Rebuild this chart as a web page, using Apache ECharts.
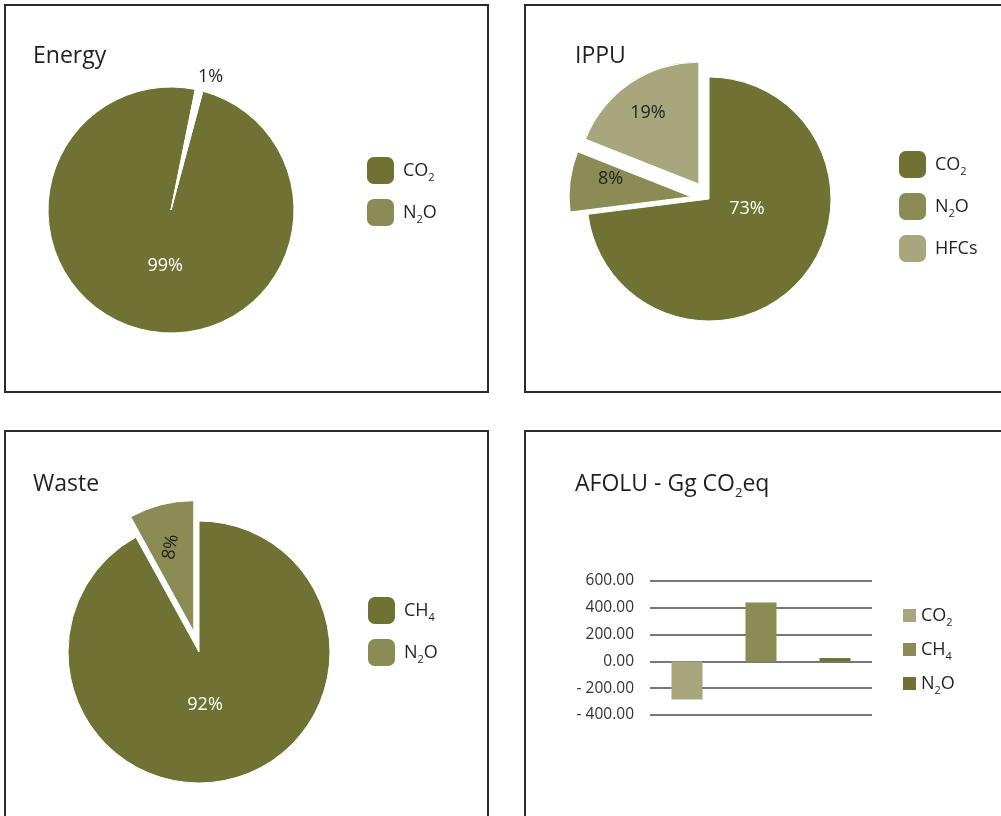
<!DOCTYPE html>
<html>
<head>
<meta charset="utf-8">
<script src="https://cdn.jsdelivr.net/npm/echarts@6/dist/echarts.min.js"></script>
<style>
  html, body { margin: 0; padding: 0; background: #fff; }
  #chart { width: 1001px; height: 816px; }
</style>
</head>
<body>
<div id="chart"></div>
<script>
const energyGases = ['CO2', 'N2O']
const energyShares = [99, 1]
const ippuGases = ['CO2', 'N2O', 'HFCs']
const ippuShares = [73, 8, 19]
const wasteGases = ['CH4', 'N2O']
const wasteShares = [92, 8]
const afoluGases = ['CO2', 'CH4', 'N2O']
const afoluValues = [-285, 440, 25]
const afoluTicks = [-400, -200, 0, 200, 400, 600]

const DARK = '#6f7233'
const MID = '#8b8b55'
const LIGHT = '#a7a67c'
const INK = '#231f20'
const FONT = 'Open Sans'

// subscript digits in gas names: CO2 -> CO{s|2}
const sub = (name) => name.replace(/(\d)/g, '{s|$1}')
const richSub = {
    s: { fontSize: 11, fontFamily: FONT, color: INK, verticalAlign: 'bottom', lineHeight: 12 }
}

// label nudges (px) so the percentages sit where the original put them
// (the rotated waste label is nudged in its own rotated frame)
const labelNudge = {
    Energy: [[9, -7], [-8, -6]],
    IPPU: [[-10, -32], [-17, -10], [-15, -18]],
    Waste: [[-11, -13], [17, -9]]
}

const chart = echarts.init(document.getElementById('chart'))

const panel = (x, y, w, h) => ({
    type: 'rect',
    shape: { x: x, y: y, width: w, height: h },
    style: { fill: 'none', stroke: '#2b2b2b', lineWidth: 2 },
    silent: true
})

const title = (text, left, top) => ({
    text: text,
    left: left,
    top: top,
    padding: 0,
    textStyle: { fontFamily: FONT, fontSize: 23, fontWeight: 'normal', color: INK, lineHeight: 32, rich: {
        s: { fontSize: 13, fontFamily: FONT, color: INK, verticalAlign: 'bottom', lineHeight: 13 }
    } }
})

const pieLegend = (names, colors, left, top) => ({
    orient: 'vertical',
    left: left,
    top: top,
    padding: 0,
    icon: 'roundRect',
    itemWidth: 27,
    itemHeight: 27,
    itemGap: 15,
    selectedMode: false,
    data: names.map((n, i) => ({ name: n, itemStyle: { color: colors[i], borderWidth: 0 } })),
    formatter: sub,
    textStyle: { fontFamily: FONT, fontSize: 18, color: INK, lineHeight: 25, padding: [0, 0, 0, 4], rich: richSub }
})

const pieLabel = (color) => ({
    show: true,
    position: 'inside',
    formatter: '{c}%',
    fontFamily: FONT,
    fontSize: 18,
    color: color
})

const nudge = (key) => (params) => {
    const d = labelNudge[key][params.dataIndex]
    return { dx: d[0], dy: d[1] }
}

chart.setOption({
    animation: false,
    graphic: [
        panel(5, 5, 483, 387),
        panel(525, 5, 490, 387),
        panel(5, 431, 483, 400),
        panel(525, 431, 490, 400)
    ],
    title: [
        title('Energy', 33, 40),
        title('IPPU', 575, 40),
        title('Waste', 33, 468),
        title('AFOLU - Gg CO{s|2}eq', 575, 468)
    ],
    legend: [
        pieLegend(energyGases, [DARK, MID], 367, 157),
        pieLegend(ippuGases, [DARK, MID, LIGHT], 899, 151),
        pieLegend(wasteGases, [DARK, MID], 368, 597),
        {
            orient: 'vertical',
            left: 903,
            top: 603,
            padding: 0,
            icon: 'rect',
            itemWidth: 13,
            itemHeight: 13,
            itemGap: 9,
            selectedMode: false,
            data: afoluGases.map((n, i) => ({ name: n, itemStyle: { color: [LIGHT, MID, DARK][i] } })),
            formatter: sub,
            textStyle: { fontFamily: FONT, fontSize: 18, color: INK, lineHeight: 25, rich: richSub }
        }
    ],
    grid: { left: 650, top: 581, width: 222, height: 134 },
    xAxis: {
        type: 'category',
        data: afoluGases,
        axisLine: { show: false },
        axisTick: { show: false },
        axisLabel: { show: false }
    },
    yAxis: {
        type: 'value',
        min: afoluTicks[0],
        max: afoluTicks[afoluTicks.length - 1],
        interval: 200,
        axisLine: { show: false },
        axisTick: { show: false },
        axisLabel: {
            margin: 16,
            fontFamily: FONT,
            fontSize: 15.5,
            color: '#333',
            formatter: (v) => (v < 0 ? '- ' + Math.abs(v).toFixed(2) : v.toFixed(2))
        },
        splitLine: { lineStyle: { color: '#4a4a4a', width: 1.5 } }
    },
    series: [
        {
            name: 'Energy',
            type: 'pie',
            center: [171, 210],
            radius: 123,
            startAngle: 75,
            clockwise: true,
            silent: true,
            itemStyle: { borderColor: '#fff', borderWidth: 1 },
            labelLine: { show: false, length: 8, length2: 0 },
            labelLayout: nudge('Energy'),
            data: energyShares.map((v, i) => ({
                name: energyGases[i],
                value: v,
                itemStyle: { color: i === 0 ? DARK : '#fff' },
                label: i === 0 ? pieLabel('#fff') : { ...pieLabel(INK), position: 'outside' }
            }))
        },
        {
            name: 'IPPU',
            type: 'pie',
            center: [709, 199],
            radius: 122,
            startAngle: 90,
            silent: true,
            selectedMode: 'multiple',
            selectedOffset: 18,
            itemStyle: { borderColor: '#fff', borderWidth: 1 },
            labelLayout: nudge('IPPU'),
            data: ippuShares.map((v, i) => ({
                name: ippuGases[i],
                value: v,
                selected: i > 0,
                itemStyle: { color: [DARK, MID, LIGHT][i] },
                label: pieLabel(i === 0 ? '#fff' : INK)
            }))
        },
        {
            name: 'Waste',
            type: 'pie',
            center: [199, 652],
            radius: 131,
            startAngle: 90,
            silent: true,
            selectedMode: 'multiple',
            selectedOffset: 21,
            itemStyle: { borderColor: '#fff', borderWidth: 1 },
            labelLayout: nudge('Waste'),
            data: wasteShares.map((v, i) => ({
                name: wasteGases[i],
                value: v,
                selected: i > 0,
                itemStyle: { color: [DARK, MID][i] },
                label: i === 0 ? pieLabel('#fff') : { ...pieLabel(INK), rotate: 80 }
            }))
        },
        ...afoluGases.map((g, i) => ({
            name: g,
            type: 'bar',
            barWidth: 31,
            barGap: '-100%',
            silent: true,
            itemStyle: { color: [LIGHT, MID, DARK][i] },
            data: afoluValues.map((v, j) => (j === i ? v : '-'))
        }))
    ]
})
</script>
</body>
</html>
